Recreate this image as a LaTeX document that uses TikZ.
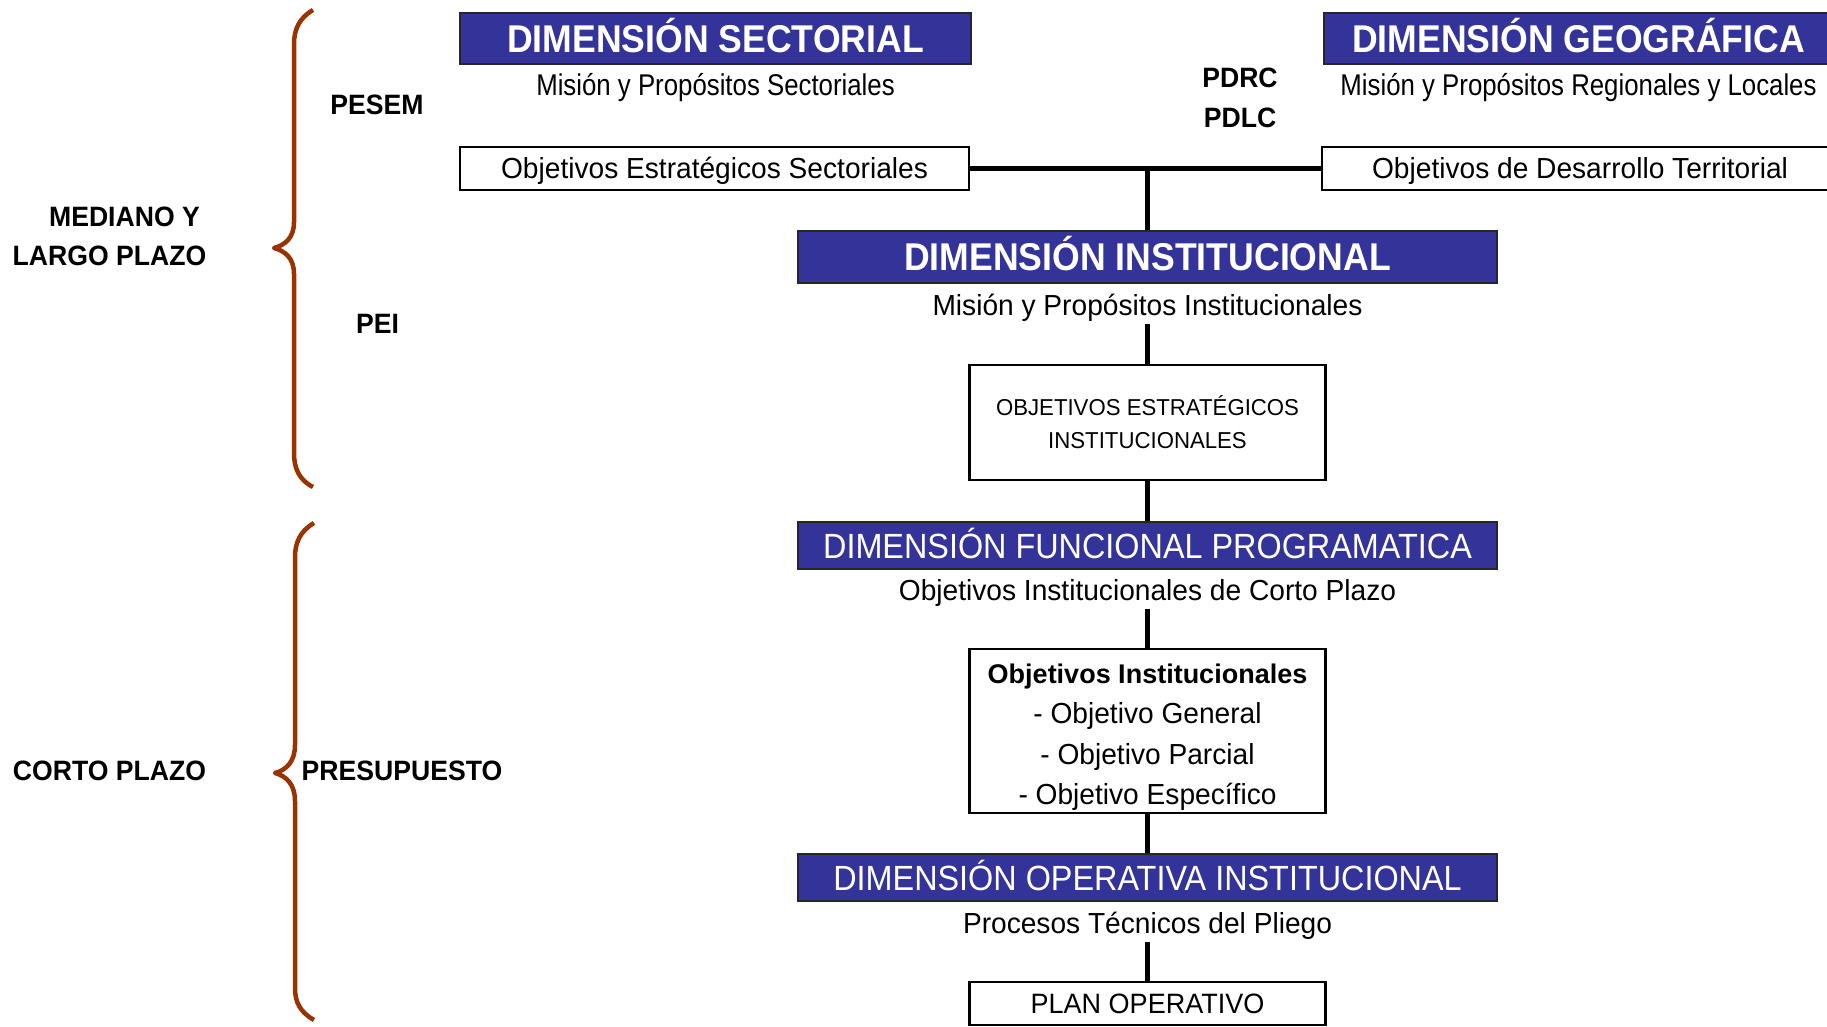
\documentclass[tikz,border=0pt]{standalone}
\usepackage{fontspec}
\setmainfont{Liberation Sans}
\newfontfamily\hdrbold[FakeStretch=0.92]{Liberation Sans}
\newfontfamily\hdrreg[FakeStretch=0.925]{Liberation Sans}
\newfontfamily\bodyfont[FakeStretch=0.97]{Liberation Sans}
\newfontfamily\narrowfont[FakeStretch=0.86]{Liberation Sans}
\newfontfamily\capsfont[FakeStretch=0.965]{Liberation Sans}
\newfontfamily\lblfont[FakeStretch=0.95]{Liberation Sans}
\newfontfamily\oiboldfont{Liberation Sans}
\definecolor{hdrblue}{HTML}{333399}
\definecolor{bracecol}{HTML}{993300}
\tikzset{
  hdrbox/.style={draw=black!85, line width=1.5pt, fill=hdrblue, text=white, inner sep=0pt, minimum width=699pt},
  hbold/.style={font=\hdrbold\bfseries\fontsize{38.7}{42}\selectfont, text height=27.7pt, text depth=0pt},
  hreg/.style={font=\hdrreg\fontsize{35}{40}\selectfont, text height=25pt, text depth=0pt},
  wbox/.style={draw=black, line width=2.5pt, fill=white, inner sep=0pt, align=center},
  capc/.style={text height=#1, text depth=0pt},
  subtxt/.style={font=\bodyfont\fontsize{29}{33}\selectfont, inner sep=0pt, minimum height=37pt, capc=20.8pt},
  lbl/.style={font=\lblfont\bfseries\fontsize{28}{32}\selectfont, inner sep=0pt},
  conn/.style={draw=black, line width=5pt},
  bracestyle/.style={draw=bracecol, line width=4.5pt, line cap=butt, line join=round}
}
\begin{document}
\begin{tikzpicture}[x=1pt,y=-1pt]
\clip (0,0) rectangle (1827,1027);
\fill[white] (0,0) rectangle (1827,1027);

% braces
\draw[bracestyle] (313,10) .. controls (299,18) and (294,30) .. (294,44) -- (294,222)
  .. controls (294,238) and (285,245) .. (274,248)
  .. controls (285,251) and (294,258) .. (294,274) -- (294,453)
  .. controls (294,468) and (299,480) .. (313,487);
\draw[bracestyle] (314,523) .. controls (300,531) and (295,543) .. (295,557) -- (295,745)
  .. controls (295,762) and (286,770) .. (275,773)
  .. controls (286,776) and (295,784) .. (295,801) -- (295,988)
  .. controls (295,1002) and (300,1012) .. (314,1020);

% left labels
\node[lbl] (mediano) at (124.5,217) {MEDIANO Y};
\node[lbl] (largo) at (109.5,256) {LARGO PLAZO};
\node[lbl] (pesem) at (377,105) {PESEM};
\node[lbl] (pei) at (377.5,324) {PEI};
\node[lbl] (corto) at (109.5,771) {CORTO PLAZO};
\node[lbl] (presup) at (402,771) {PRESUPUESTO};
\node[lbl] (pdrc) at (1240,78) {PDRC};
\node[lbl] (pdlc) at (1240,118) {PDLC};

% top row
\node[hdrbox, hbold, minimum width=511pt, minimum height=51pt] (sect) at (715.5,38.5) {DIMENSIÓN SECTORIAL};
\node[font=\narrowfont\fontsize{30}{34}\selectfont, inner sep=0pt, capc=21.5pt] (mss) at (715.5,85) {Misión y Propósitos Sectoriales};
\node[wbox, font=\bodyfont\fontsize{29}{33}\selectfont, capc=20.8pt, minimum width=509pt, minimum height=43pt] (oes) at (714.5,168.5) {Objetivos Estratégicos Sectoriales};

\node[hdrbox, hbold, minimum width=509pt, minimum height=51pt] (geo) at (1578.5,38.5) {DIMENSIÓN GEOGRÁFICA};
\node[font=\narrowfont\fontsize{30}{34}\selectfont, inner sep=0pt, capc=21.5pt] (mrl) at (1578.5,85) {Misión y Propósitos Regionales y Locales};
\node[wbox, font=\bodyfont\fontsize{29}{33}\selectfont, capc=20.8pt, minimum width=516pt, minimum height=43pt] (odt) at (1580,168.5) {Objetivos de Desarrollo Territorial};

\coordinate (j) at (1147.5,168.5);

% central column
\node[hdrbox, hbold, minimum height=52pt] (di) at (1147.5,257) {DIMENSIÓN INSTITUCIONAL};
\node[subtxt] (mpi) at (1147.5,305) {Misión y Propósitos Institucionales};
\node[wbox, font=\capsfont\fontsize{23}{33}\selectfont, minimum width=356pt, minimum height=115pt] (oei) at (1147.5,422.5) {OBJETIVOS ESTRATÉGICOS\\INSTITUCIONALES};

\node[hdrbox, hreg, minimum height=47pt] (df) at (1147.5,545.5) {DIMENSIÓN FUNCIONAL PROGRAMATICA};
\node[subtxt] (oicp) at (1147.5,590) {Objetivos Institucionales de Corto Plazo};
\node[wbox, font=\bodyfont\fontsize{29}{40.3}\selectfont, minimum width=356pt, minimum height=164pt] (oi) at (1147.5,731)
  {\raisebox{-5pt}[\height][\depth]{\begin{tabular}{@{}c@{}}{\oiboldfont\bfseries\fontsize{27}{40.3}\selectfont Objetivos Institucionales}\\- Objetivo General\\- Objetivo Parcial\\- Objetivo Específico\end{tabular}}};

\node[hdrbox, hreg, minimum height=47pt] (doi) at (1147.5,877.5) {DIMENSIÓN OPERATIVA INSTITUCIONAL};
\node[subtxt] (ptp) at (1147.5,923) {Procesos Técnicos del Pliego};
\node[wbox, font=\capsfont\fontsize{28}{32}\selectfont, minimum width=356pt, minimum height=43pt] (po) at (1147.5,1003.5) {PLAN OPERATIVO};

% connectors
\draw[conn] (oes.east) -- (odt.west);
\draw[conn] (j) -- (di.north);
\draw[conn] (mpi.south) -- (oei.north);
\draw[conn] (oei.south) -- (df.north);
\draw[conn] (oicp.south) -- (oi.north);
\draw[conn] (oi.south) -- (doi.north);
\draw[conn] (ptp.south) -- (po.north);
\end{tikzpicture}
\end{document}
